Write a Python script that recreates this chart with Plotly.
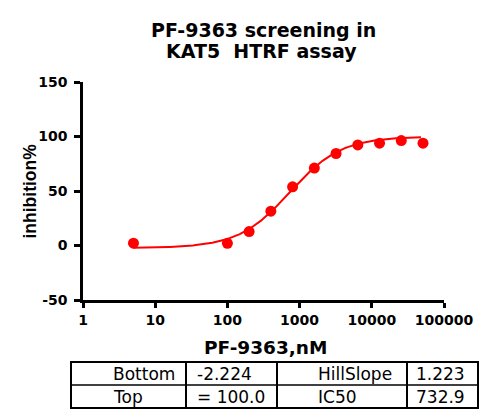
import numpy as np
import plotly.graph_objects as go

# ---- data ----
conc_nM = [5, 100, 200, 400, 800, 1600, 3200, 6400, 12800, 25600, 51200]
inhibition = [2.1, 2.0, 12.8, 31.5, 53.8, 71.0, 84.4, 92.3, 93.9, 96.3, 93.9]

fit_bottom = -2.224
fit_top = 100.0
fit_hillslope = 1.223
fit_ic50 = 732.9

x_tick_vals = [1, 10, 100, 1000, 10000, 100000]
x_tick_text = ["1", "10", "100", "1000", "10000", "100000"]
y_tick_vals = [-50, 0, 50, 100, 150]
y_tick_text = ["-50", "0", "50", "100", "150"]

table_rows = [
    ["Bottom", "-2.224", "HillSlope", "1.223"],
    ["Top", "= 100.0", "IC50", "732.9"],
]

title_lines = ["PF-9363 screening in", "KAT5\u00a0 HTRF assay"]
x_title = "PF-9363,nM"
y_title = "inhibition%"

# ---- fitted curve from the reported parameters ----
xc = np.logspace(np.log10(conc_nM[0]), np.log10(48000), 300)
yc = fit_bottom + (fit_top - fit_bottom) / (1 + (fit_ic50 / xc) ** fit_hillslope)

OFF = 8  # page body margin
W, H = 500 - OFF, 420 - OFF
# plot area in page pixels
PX0, PX1, PY0, PY1 = 83, 444, 82, 300
L, R, T, B = PX0 - OFF, 500 - PX1, PY0 - OFF, 420 - PY1
PW, PH = PX1 - PX0, PY1 - PY0


def px(x):
    return (x - PX0) / PW


def py(y):
    return (PY1 - y) / PH


RED = "#ff0000"
BOLD = "DejaVu Sans"

fig = go.Figure()
fig.add_trace(go.Scatter(x=xc, y=yc, mode="lines",
                         line=dict(color=RED, width=2), hoverinfo="skip",
                         showlegend=False))
fig.add_trace(go.Scatter(x=conc_nM, y=inhibition, mode="markers",
                         marker=dict(color=RED, size=11), showlegend=False))

fig.update_xaxes(type="log", range=[0, 5], tickvals=x_tick_vals, ticktext=x_tick_text,
                 showline=True, linecolor="black", linewidth=2.5,
                 ticks="outside", ticklen=5, tickwidth=2.5, tickcolor="black",
                 showgrid=False, zeroline=False,
                 tickfont=dict(family=BOLD, size=14, color="black", weight="bold"))
fig.update_yaxes(range=[-50, 150], tickvals=y_tick_vals, ticktext=y_tick_text,
                 showline=True, linecolor="black", linewidth=2.5,
                 ticks="outside", ticklen=6, tickwidth=2.5, tickcolor="black",
                 ticklabelstandoff=4,
                 showgrid=False, zeroline=False,
                 tickfont=dict(family=BOLD, size=14, color="black", weight="bold"))

ann = []
# title
ann.append(dict(text=title_lines[0], x=px(263), y=py(30), xref="paper", yref="paper",
                showarrow=False, xanchor="center", yanchor="middle",
                font=dict(family=BOLD, size=19, color="black", weight="bold")))
ann.append(dict(text=title_lines[1], x=px(261), y=py(51), xref="paper", yref="paper",
                showarrow=False, xanchor="center", yanchor="middle",
                font=dict(family=BOLD, size=19, color="black", weight="bold")))
# axis titles
ann.append(dict(text=x_title, x=px(265), y=py(347), xref="paper", yref="paper",
                showarrow=False, xanchor="center", yanchor="middle",
                font=dict(family=BOLD, size=18.5, color="black", weight="bold")))
ann.append(dict(text=y_title, x=px(29.5), y=py(191), xref="paper", yref="paper",
                showarrow=False, xanchor="center", yanchor="middle", textangle=-90,
                font=dict(family="Liberation Sans", size=17.5, color="black", weight="bold")))

# table
tx0, tx1 = 71, 478
ty0, ty1 = 362, 408
col_edges = [186, 277, 407]
row_edge = 385
shapes = [dict(type="rect", xref="paper", yref="paper",
               x0=px(tx0), x1=px(tx1), y0=py(ty1), y1=py(ty0),
               line=dict(color="black", width=2))]
for cx in col_edges:
    shapes.append(dict(type="line", xref="paper", yref="paper",
                       x0=px(cx), x1=px(cx), y0=py(ty1), y1=py(ty0),
                       line=dict(color="black", width=2)))
shapes.append(dict(type="line", xref="paper", yref="paper",
                   x0=px(tx0), x1=px(tx1), y0=py(row_edge), y1=py(row_edge),
                   line=dict(color="black", width=1.5)))
text_x = [111, 195, 316, 414]
row_y = [373.5, 396.5]
for r, row in enumerate(table_rows):
    for c, txt in enumerate(row):
        ann.append(dict(text=txt, x=px(text_x[c]), y=py(row_y[r]), xref="paper", yref="paper",
                        showarrow=False, xanchor="left", yanchor="middle",
                        font=dict(family="DejaVu Sans", size=17, color="black")))

fig.update_layout(width=W, height=H, margin=dict(l=L, r=R, t=T, b=B),
                  paper_bgcolor="white", plot_bgcolor="white",
                  annotations=ann, shapes=shapes, showlegend=False)

fig.write_html("out.html")
